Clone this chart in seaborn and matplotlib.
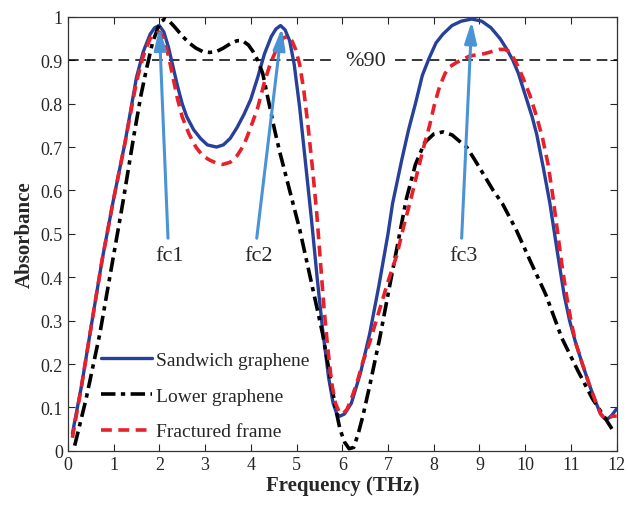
import numpy as np
import pandas as pd
import matplotlib
matplotlib.use("Agg")
import matplotlib.pyplot as plt
import seaborn as sns

# --- data ---
sandwich_x = [0.1, 0.3, 0.5, 0.75, 1.0, 1.25, 1.5, 1.65, 1.8, 1.9, 2.0, 2.1, 2.2, 2.3, 2.4, 2.5,
              2.6, 2.75, 2.9, 3.05, 3.25, 3.4, 3.55, 3.7, 3.85, 4.0, 4.15, 4.3, 4.45, 4.55, 4.65,
              4.75, 4.85, 4.95, 5.07, 5.2, 5.33, 5.45, 5.57, 5.7, 5.8, 5.88, 5.95, 6.05, 6.2,
              6.4, 6.6, 6.8, 7.0, 7.1, 7.3, 7.45, 7.6, 7.75, 7.9, 8.05, 8.2, 8.4, 8.6, 8.83,
              9.05, 9.25, 9.45, 9.6, 9.73, 9.85, 10.0, 10.15, 10.25, 10.4, 10.54, 10.7, 10.85,
              10.97, 11.1, 11.25, 11.41, 11.55, 11.65, 11.74, 11.82, 11.9, 12.0]
sandwich_y = [0.04, 0.15, 0.28, 0.44, 0.58, 0.71, 0.86, 0.92, 0.96, 0.975, 0.98, 0.965, 0.93,
              0.885, 0.84, 0.80, 0.77, 0.74, 0.72, 0.705, 0.70, 0.705, 0.72, 0.745, 0.775, 0.81,
              0.86, 0.915, 0.955, 0.972, 0.98, 0.97, 0.945, 0.89, 0.79, 0.66, 0.53, 0.40, 0.28,
              0.17, 0.11, 0.085, 0.08, 0.085, 0.11, 0.18, 0.27, 0.38, 0.50, 0.57, 0.67, 0.74,
              0.80, 0.865, 0.905, 0.94, 0.96, 0.98, 0.99, 0.995, 0.99, 0.975, 0.95, 0.925, 0.90,
              0.87, 0.82, 0.77, 0.73, 0.65, 0.57, 0.46, 0.36, 0.30, 0.25, 0.20, 0.15, 0.11,
              0.085, 0.074, 0.075, 0.083, 0.097]

lower_x = [0.15, 0.4, 0.7, 0.95, 1.2, 1.45, 1.6, 1.72, 1.85, 1.97, 2.05, 2.12, 2.22, 2.35, 2.51,
           2.65, 2.8, 2.95, 3.1, 3.25, 3.4, 3.55, 3.7, 3.82, 3.95, 4.05, 4.15, 4.26, 4.4, 4.52,
           4.63, 4.85, 5.07, 5.3, 5.57, 5.72, 5.85, 5.95, 6.05, 6.15, 6.25, 6.35, 6.45, 6.6,
           6.82, 7.0, 7.2, 7.4, 7.6, 7.8, 8.0, 8.2, 8.4, 8.6, 8.72, 8.9, 9.1, 9.3, 9.5, 9.8,
           10.1, 10.45, 10.8, 11.15, 11.47, 11.75, 11.96]
lower_y = [0.012, 0.12, 0.27, 0.42, 0.57, 0.73, 0.82, 0.88, 0.94, 0.975, 0.99, 0.995, 0.99,
           0.975, 0.955, 0.94, 0.928, 0.92, 0.918, 0.92, 0.928, 0.938, 0.945, 0.945, 0.935,
           0.92, 0.90, 0.87, 0.80, 0.74, 0.69, 0.60, 0.51, 0.40, 0.27, 0.18, 0.10, 0.05, 0.02,
           0.005, 0.008, 0.04, 0.08, 0.15, 0.26, 0.36, 0.47, 0.58, 0.66, 0.71, 0.73, 0.735,
           0.728, 0.71, 0.70, 0.67, 0.635, 0.60, 0.57, 0.51, 0.44, 0.36, 0.26, 0.185, 0.12,
           0.075, 0.04]

fractured_x = [0.1, 0.3, 0.5, 0.75, 1.0, 1.25, 1.5, 1.65, 1.8, 1.9, 2.0, 2.1, 2.2, 2.3, 2.4,
               2.5, 2.65, 2.8, 2.95, 3.1, 3.25, 3.39, 3.55, 3.7, 3.85, 3.98, 4.15, 4.3, 4.42,
               4.52, 4.62, 4.72, 4.81, 4.9, 4.98, 5.07, 5.16, 5.25, 5.35, 5.44, 5.52, 5.6, 5.68,
               5.77, 5.85, 5.93, 6.01, 6.1, 6.2, 6.33, 6.45, 6.6, 6.8, 7.0, 7.19, 7.35, 7.5,
               7.65, 7.78, 7.91, 8.02, 8.13, 8.25, 8.35, 8.5, 8.79, 9.1, 9.44, 9.55, 9.66, 9.8,
               9.95, 10.1, 10.25, 10.38, 10.5, 10.6, 10.7, 10.8, 10.9, 11.0, 11.1, 11.25, 11.41,
               11.55, 11.65, 11.74, 11.82, 11.9, 12.0]
fractured_y = [0.03, 0.15, 0.28, 0.44, 0.58, 0.71, 0.85, 0.91, 0.95, 0.96, 0.965, 0.95, 0.91,
               0.86, 0.81, 0.77, 0.73, 0.70, 0.68, 0.67, 0.663, 0.66, 0.665, 0.68, 0.705, 0.74,
               0.79, 0.85, 0.89, 0.915, 0.94, 0.952, 0.955, 0.945, 0.925, 0.89, 0.83, 0.75,
               0.65, 0.55, 0.44, 0.33, 0.24, 0.155, 0.11, 0.09, 0.085, 0.095, 0.12, 0.16, 0.205,
               0.25, 0.32, 0.39, 0.45, 0.52, 0.58, 0.645, 0.70, 0.75, 0.80, 0.84, 0.87, 0.885,
               0.895, 0.91, 0.915, 0.925, 0.925, 0.92, 0.895, 0.86, 0.82, 0.77, 0.72, 0.66,
               0.59, 0.51, 0.43, 0.36, 0.30, 0.25, 0.20, 0.15, 0.11, 0.085, 0.074, 0.075, 0.08,
               0.08]

fc_labels = ["fc1", "fc2", "fc3"]
fc_tip_x = [2.0, 4.68, 8.83]
fc_tip_y = [0.975, 0.975, 0.99]
fc_tail_x = [2.19, 4.13, 8.61]
fc_tail_y = [0.49, 0.49, 0.49]

LEVEL = 0.9
LEVEL_LABEL = "%90"

df = pd.concat([
    pd.DataFrame({"f": sandwich_x, "a": sandwich_y, "kind": "Sandwich graphene"}),
    pd.DataFrame({"f": lower_x, "a": lower_y, "kind": "Lower graphene"}),
    pd.DataFrame({"f": fractured_x, "a": fractured_y, "kind": "Fractured frame"}),
])

sns.set_style("ticks")
plt.rcParams["font.family"] = ["Liberation Serif", "DejaVu Serif"]

fig = plt.figure(figsize=(6.28, 5.10), dpi=100)
ax = fig.add_axes([0.108, 0.114, 0.874, 0.851])

styles = {
    "Sandwich graphene": dict(color="#27409a", linestyle="-", lw=2.4),
    "Lower graphene": dict(color="black", dashes=(4.0, 1.5, 1.2, 1.5), lw=2.6),
    "Fractured frame": dict(color="#e8202a", dashes=(3.0, 1.8), lw=2.6),
}
for kind, st in styles.items():
    sub = df[df["kind"] == kind]
    sns.lineplot(data=sub, x="f", y="a", ax=ax, label=kind, sort=False,
                 zorder=3, **st)

# 90 % reference line with a gap for its label
ax.hlines(LEVEL, 0, 5.85, colors="black", linestyles=(0, (7, 4)), lw=1.1, zorder=2)
ax.hlines(LEVEL, 7.15, 12, colors="black", linestyles=(0, (7, 4)), lw=1.1, zorder=2)
ax.text(6.5, LEVEL, LEVEL_LABEL, ha="center", va="center", fontsize=16)

for lab, tx, ty, sx, sy in zip(fc_labels, fc_tip_x, fc_tip_y, fc_tail_x, fc_tail_y):
    ax.annotate("", xy=(tx, ty), xytext=(sx, sy),
                arrowprops=dict(arrowstyle="-|>,head_length=0.65,head_width=0.18",
                                color="#4a93d4", lw=2.2, mutation_scale=20,
                                shrinkA=0, shrinkB=0), zorder=4)
    ax.text(sx + 0.04, sy - 0.04, lab, ha="center", va="center", fontsize=16)

ax.set_xlim(0, 12)
ax.set_ylim(0, 1)
ax.set_xticks(range(0, 13))
ax.set_yticks(np.round(np.arange(0, 1.01, 0.1), 1))
ax.set_yticklabels(["0"] + [f"{v:.1f}" for v in np.arange(0.1, 0.95, 0.1)] + ["1"])
ax.tick_params(direction="in", top=True, right=True, labelsize=13, length=5, width=0.8)
for s in ax.spines.values():
    s.set_visible(True)
    s.set_linewidth(0.9)
    s.set_color("#333333")

ax.set_xlabel("Frequency (THz)", fontsize=15, fontweight="bold", labelpad=2)
ax.set_ylabel("Absorbance", fontsize=15, fontweight="bold", labelpad=4)

ax.legend(loc="lower left", bbox_to_anchor=(0.047, 0.006), frameon=False, fontsize=14,
          handlelength=2.6, labelspacing=0.94, handletextpad=0.2, borderaxespad=0)

fig.savefig("out.png", dpi=100)
